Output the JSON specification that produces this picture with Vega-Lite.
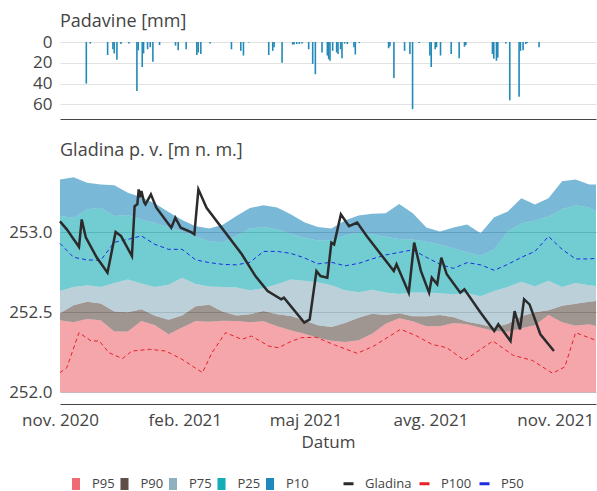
{
  "$schema": "https://vega.github.io/schema/vega-lite/v6.json",
  "padding": {"left": 8, "top": 13, "right": 0, "bottom": 0},
  "spacing": 23,
  "config": {
    "font": "Open Sans",
    "view": {"stroke": null},
    "axis": {"labelFont": "Open Sans", "labelFontSize": 17, "labelColor": "#444", "ticks": false, "domain": false, "titleFont": "Open Sans", "titleFontWeight": "normal", "titleFontSize": 17, "titleColor": "#444", "labelPadding": 8},
    "title": {"anchor": "start", "frame": "group", "fontSize": 18, "fontWeight": "normal", "color": "#444", "offset": 10, "font": "Open Sans"},
    "legend": {"labelFont": "Open Sans", "labelFontSize": 13, "labelColor": "#444", "padding": 0}
  },
  "datasets": {
    "rain": [
      {"d": "2020-11-17", "mm": 40}, {"d": "2020-11-20", "mm": 1.5}, {"d": "2020-12-03", "mm": 12.5}, {"d": "2020-12-07", "mm": 7},
      {"d": "2020-12-08", "mm": 11}, {"d": "2020-12-10", "mm": 17}, {"d": "2020-12-13", "mm": 2}, {"d": "2020-12-19", "mm": 1.5},
      {"d": "2020-12-25", "mm": 47}, {"d": "2020-12-26", "mm": 8}, {"d": "2020-12-29", "mm": 24}, {"d": "2020-12-30", "mm": 11},
      {"d": "2021-01-02", "mm": 7}, {"d": "2021-01-04", "mm": 5}, {"d": "2021-01-06", "mm": 19}, {"d": "2021-01-11", "mm": 3},
      {"d": "2021-01-23", "mm": 3.5}, {"d": "2021-01-25", "mm": 8}, {"d": "2021-01-31", "mm": 7}, {"d": "2021-02-08", "mm": 12.5},
      {"d": "2021-02-09", "mm": 10}, {"d": "2021-02-11", "mm": 11.5}, {"d": "2021-02-18", "mm": 1.5}, {"d": "2021-03-06", "mm": 7},
      {"d": "2021-03-13", "mm": 8.5}, {"d": "2021-03-15", "mm": 13}, {"d": "2021-03-19", "mm": 0.5}, {"d": "2021-04-03", "mm": 12.5},
      {"d": "2021-04-06", "mm": 8.5}, {"d": "2021-04-07", "mm": 5}, {"d": "2021-04-13", "mm": 20}, {"d": "2021-04-21", "mm": 2.5},
      {"d": "2021-04-22", "mm": 2.5}, {"d": "2021-04-24", "mm": 2}, {"d": "2021-04-26", "mm": 2}, {"d": "2021-04-28", "mm": 1.5},
      {"d": "2021-05-03", "mm": 7}, {"d": "2021-05-06", "mm": 21}, {"d": "2021-05-08", "mm": 31}, {"d": "2021-05-13", "mm": 10},
      {"d": "2021-05-17", "mm": 13}, {"d": "2021-05-18", "mm": 16.5}, {"d": "2021-05-19", "mm": 18}, {"d": "2021-05-21", "mm": 8.5},
      {"d": "2021-05-24", "mm": 10}, {"d": "2021-05-25", "mm": 11.5}, {"d": "2021-05-27", "mm": 7}, {"d": "2021-05-28", "mm": 15.5},
      {"d": "2021-05-30", "mm": 1.5}, {"d": "2021-06-01", "mm": 2}, {"d": "2021-06-06", "mm": 5}, {"d": "2021-06-07", "mm": 12},
      {"d": "2021-06-10", "mm": 1}, {"d": "2021-07-02", "mm": 6}, {"d": "2021-07-03", "mm": 4}, {"d": "2021-07-06", "mm": 34.5},
      {"d": "2021-07-14", "mm": 8.5}, {"d": "2021-07-18", "mm": 11.5}, {"d": "2021-07-20", "mm": 64.5}, {"d": "2021-07-25", "mm": 1},
      {"d": "2021-08-02", "mm": 13}, {"d": "2021-08-03", "mm": 24}, {"d": "2021-08-06", "mm": 7}, {"d": "2021-08-07", "mm": 5},
      {"d": "2021-08-10", "mm": 13}, {"d": "2021-08-18", "mm": 11.5}, {"d": "2021-08-24", "mm": 15.5}, {"d": "2021-08-28", "mm": 4.5},
      {"d": "2021-08-29", "mm": 3}, {"d": "2021-09-18", "mm": 11.5}, {"d": "2021-09-19", "mm": 16}, {"d": "2021-09-21", "mm": 18},
      {"d": "2021-09-22", "mm": 15}, {"d": "2021-09-28", "mm": 1.5}, {"d": "2021-10-01", "mm": 56}, {"d": "2021-10-08", "mm": 52.5},
      {"d": "2021-10-09", "mm": 8.5}, {"d": "2021-10-11", "mm": 8}, {"d": "2021-10-13", "mm": 2}, {"d": "2021-10-14", "mm": 1},
      {"d": "2021-10-23", "mm": 5}
    ],
    "bands": [
      {"d": "2020-11-01", "P10": 253.331, "P25": 253.102, "P50": 252.931, "P75": 252.633, "P90": 252.494, "P95": 252.450},
      {"d": "2020-11-11", "P10": 253.344, "P25": 253.092, "P50": 252.844, "P75": 252.659, "P90": 252.544, "P95": 252.438},
      {"d": "2020-11-21", "P10": 253.311, "P25": 253.144, "P50": 252.828, "P75": 252.670, "P90": 252.566, "P95": 252.459},
      {"d": "2020-12-01", "P10": 253.300, "P25": 253.154, "P50": 252.825, "P75": 252.659, "P90": 252.556, "P95": 252.450},
      {"d": "2020-12-11", "P10": 253.294, "P25": 253.103, "P50": 252.938, "P75": 252.684, "P90": 252.506, "P95": 252.381},
      {"d": "2020-12-21", "P10": 253.247, "P25": 253.109, "P50": 252.956, "P75": 252.706, "P90": 252.500, "P95": 252.381},
      {"d": "2020-12-31", "P10": 253.219, "P25": 253.081, "P50": 252.978, "P75": 252.681, "P90": 252.519, "P95": 252.446},
      {"d": "2021-01-10", "P10": 253.181, "P25": 253.059, "P50": 252.925, "P75": 252.659, "P90": 252.478, "P95": 252.419},
      {"d": "2021-01-20", "P10": 253.128, "P25": 253.034, "P50": 252.894, "P75": 252.672, "P90": 252.453, "P95": 252.363},
      {"d": "2021-01-30", "P10": 253.078, "P25": 253.006, "P50": 252.894, "P75": 252.716, "P90": 252.481, "P95": 252.406},
      {"d": "2021-02-09", "P10": 253.038, "P25": 252.975, "P50": 252.828, "P75": 252.678, "P90": 252.538, "P95": 252.446},
      {"d": "2021-02-19", "P10": 253.025, "P25": 252.944, "P50": 252.811, "P75": 252.661, "P90": 252.547, "P95": 252.441},
      {"d": "2021-03-01", "P10": 253.047, "P25": 252.938, "P50": 252.800, "P75": 252.659, "P90": 252.503, "P95": 252.447},
      {"d": "2021-03-11", "P10": 253.103, "P25": 252.978, "P50": 252.797, "P75": 252.656, "P90": 252.481, "P95": 252.446},
      {"d": "2021-03-21", "P10": 253.153, "P25": 253.025, "P50": 252.813, "P75": 252.638, "P90": 252.488, "P95": 252.438},
      {"d": "2021-03-31", "P10": 253.169, "P25": 253.034, "P50": 252.881, "P75": 252.650, "P90": 252.508, "P95": 252.444},
      {"d": "2021-04-10", "P10": 253.156, "P25": 253.019, "P50": 252.881, "P75": 252.675, "P90": 252.488, "P95": 252.413},
      {"d": "2021-04-20", "P10": 253.113, "P25": 252.991, "P50": 252.869, "P75": 252.706, "P90": 252.477, "P95": 252.388},
      {"d": "2021-04-30", "P10": 253.063, "P25": 252.966, "P50": 252.841, "P75": 252.697, "P90": 252.450, "P95": 252.366},
      {"d": "2021-05-10", "P10": 253.034, "P25": 252.950, "P50": 252.803, "P75": 252.688, "P90": 252.419, "P95": 252.341},
      {"d": "2021-05-20", "P10": 253.025, "P25": 252.953, "P50": 252.813, "P75": 252.669, "P90": 252.409, "P95": 252.322},
      {"d": "2021-05-30", "P10": 253.075, "P25": 252.981, "P50": 252.791, "P75": 252.638, "P90": 252.434, "P95": 252.314},
      {"d": "2021-06-09", "P10": 253.106, "P25": 252.998, "P50": 252.806, "P75": 252.625, "P90": 252.466, "P95": 252.325},
      {"d": "2021-06-19", "P10": 253.116, "P25": 252.988, "P50": 252.834, "P75": 252.642, "P90": 252.491, "P95": 252.366},
      {"d": "2021-06-29", "P10": 253.119, "P25": 252.972, "P50": 252.859, "P75": 252.624, "P90": 252.484, "P95": 252.428},
      {"d": "2021-07-09", "P10": 253.178, "P25": 252.959, "P50": 252.875, "P75": 252.614, "P90": 252.494, "P95": 252.463},
      {"d": "2021-07-19", "P10": 253.119, "P25": 252.956, "P50": 252.891, "P75": 252.624, "P90": 252.475, "P95": 252.444},
      {"d": "2021-07-29", "P10": 253.031, "P25": 252.941, "P50": 252.844, "P75": 252.624, "P90": 252.475, "P95": 252.413},
      {"d": "2021-08-08", "P10": 253.006, "P25": 252.925, "P50": 252.800, "P75": 252.620, "P90": 252.484, "P95": 252.413},
      {"d": "2021-08-18", "P10": 253.031, "P25": 252.900, "P50": 252.775, "P75": 252.613, "P90": 252.469, "P95": 252.434},
      {"d": "2021-08-28", "P10": 253.050, "P25": 252.875, "P50": 252.811, "P75": 252.621, "P90": 252.441, "P95": 252.425},
      {"d": "2021-09-07", "P10": 252.994, "P25": 252.856, "P50": 252.797, "P75": 252.600, "P90": 252.425, "P95": 252.404},
      {"d": "2021-09-17", "P10": 253.094, "P25": 252.894, "P50": 252.763, "P75": 252.634, "P90": 252.405, "P95": 252.383},
      {"d": "2021-09-27", "P10": 253.131, "P25": 253.006, "P50": 252.800, "P75": 252.659, "P90": 252.428, "P95": 252.378},
      {"d": "2021-10-07", "P10": 253.213, "P25": 253.056, "P50": 252.844, "P75": 252.691, "P90": 252.475, "P95": 252.400},
      {"d": "2021-10-17", "P10": 253.175, "P25": 253.075, "P50": 252.881, "P75": 252.661, "P90": 252.500, "P95": 252.419},
      {"d": "2021-10-27", "P10": 253.213, "P25": 253.100, "P50": 252.975, "P75": 252.697, "P90": 252.513, "P95": 252.484},
      {"d": "2021-11-06", "P10": 253.319, "P25": 253.144, "P50": 252.894, "P75": 252.659, "P90": 252.541, "P95": 252.438},
      {"d": "2021-11-16", "P10": 253.331, "P25": 253.169, "P50": 252.834, "P75": 252.684, "P90": 252.553, "P95": 252.416},
      {"d": "2021-11-26", "P10": 253.300, "P25": 253.156, "P50": 252.834, "P75": 252.670, "P90": 252.566, "P95": 252.425},
      {"d": "2021-12-01", "P10": 253.300, "P25": 253.131, "P50": 252.838, "P75": 252.664, "P90": 252.571, "P95": 252.414}
    ],
    "p100": [
      {"d": "2020-11-01", "v": 252.123}, {"d": "2020-11-06", "v": 252.154}, {"d": "2020-11-15", "v": 252.373}, {"d": "2020-11-24", "v": 252.321},
      {"d": "2020-11-30", "v": 252.321}, {"d": "2020-12-07", "v": 252.248}, {"d": "2020-12-17", "v": 252.211}, {"d": "2020-12-24", "v": 252.258},
      {"d": "2021-01-06", "v": 252.269}, {"d": "2021-01-18", "v": 252.258}, {"d": "2021-01-30", "v": 252.206}, {"d": "2021-02-14", "v": 252.123},
      {"d": "2021-02-21", "v": 252.248}, {"d": "2021-03-03", "v": 252.373}, {"d": "2021-03-15", "v": 252.331}, {"d": "2021-03-22", "v": 252.352},
      {"d": "2021-04-04", "v": 252.289}, {"d": "2021-04-11", "v": 252.279}, {"d": "2021-04-21", "v": 252.321}, {"d": "2021-04-28", "v": 252.342},
      {"d": "2021-05-09", "v": 252.344}, {"d": "2021-05-23", "v": 252.294}, {"d": "2021-06-08", "v": 252.244}, {"d": "2021-06-20", "v": 252.288},
      {"d": "2021-07-10", "v": 252.394}, {"d": "2021-07-22", "v": 252.352}, {"d": "2021-08-02", "v": 252.300}, {"d": "2021-08-13", "v": 252.279},
      {"d": "2021-08-26", "v": 252.200}, {"d": "2021-09-07", "v": 252.269}, {"d": "2021-09-16", "v": 252.321}, {"d": "2021-10-01", "v": 252.231},
      {"d": "2021-10-15", "v": 252.200}, {"d": "2021-10-30", "v": 252.119}, {"d": "2021-11-08", "v": 252.159}, {"d": "2021-11-16", "v": 252.373},
      {"d": "2021-12-01", "v": 252.325}
    ],
    "gl": [
      {"d": "2020-11-01", "v": 253.069}, {"d": "2020-11-06", "v": 253.019}, {"d": "2020-11-15", "v": 252.909}, {"d": "2020-11-17", "v": 253.081},
      {"d": "2020-11-20", "v": 252.969}, {"d": "2020-11-28", "v": 252.844}, {"d": "2020-12-06", "v": 252.748}, {"d": "2020-12-12", "v": 253.003},
      {"d": "2020-12-16", "v": 252.977}, {"d": "2020-12-24", "v": 252.852}, {"d": "2020-12-26", "v": 253.164}, {"d": "2020-12-28", "v": 253.175},
      {"d": "2020-12-29", "v": 253.269}, {"d": "2020-12-30", "v": 253.219}, {"d": "2020-12-31", "v": 253.258}, {"d": "2021-01-02", "v": 253.188},
      {"d": "2021-01-03", "v": 253.175}, {"d": "2021-01-07", "v": 253.238}, {"d": "2021-01-11", "v": 253.154}, {"d": "2021-01-22", "v": 253.029},
      {"d": "2021-01-25", "v": 253.092}, {"d": "2021-01-29", "v": 253.029}, {"d": "2021-02-06", "v": 253.000}, {"d": "2021-02-08", "v": 252.988},
      {"d": "2021-02-11", "v": 253.269}, {"d": "2021-02-17", "v": 253.154}, {"d": "2021-03-15", "v": 252.863}, {"d": "2021-03-25", "v": 252.727},
      {"d": "2021-04-03", "v": 252.633}, {"d": "2021-04-13", "v": 252.581}, {"d": "2021-04-15", "v": 252.592}, {"d": "2021-04-30", "v": 252.436},
      {"d": "2021-05-04", "v": 252.456}, {"d": "2021-05-09", "v": 252.758}, {"d": "2021-05-12", "v": 252.727}, {"d": "2021-05-17", "v": 252.717},
      {"d": "2021-05-20", "v": 252.936}, {"d": "2021-05-22", "v": 252.925}, {"d": "2021-05-27", "v": 253.113}, {"d": "2021-06-02", "v": 253.039},
      {"d": "2021-06-08", "v": 253.061}, {"d": "2021-06-15", "v": 252.977}, {"d": "2021-07-05", "v": 252.758}, {"d": "2021-07-07", "v": 252.800},
      {"d": "2021-07-16", "v": 252.623}, {"d": "2021-07-20", "v": 252.936}, {"d": "2021-07-25", "v": 252.758}, {"d": "2021-07-31", "v": 252.623},
      {"d": "2021-08-02", "v": 252.717}, {"d": "2021-08-06", "v": 252.675}, {"d": "2021-08-09", "v": 252.842}, {"d": "2021-08-13", "v": 252.738},
      {"d": "2021-08-23", "v": 252.623}, {"d": "2021-08-26", "v": 252.644}, {"d": "2021-09-07", "v": 252.498}, {"d": "2021-09-17", "v": 252.383},
      {"d": "2021-09-20", "v": 252.425}, {"d": "2021-09-29", "v": 252.321}, {"d": "2021-10-02", "v": 252.508}, {"d": "2021-10-06", "v": 252.394},
      {"d": "2021-10-09", "v": 252.581}, {"d": "2021-10-13", "v": 252.550}, {"d": "2021-10-21", "v": 252.363}, {"d": "2021-10-31", "v": 252.258}
    ]
  },
  "vconcat": [
    {
      "title": {"text": "Padavine [mm]", "offset": 2},
      "width": 536,
      "height": 77,
      "data": {"name": "rain"},
      "mark": {"type": "bar", "color": "#2389b8", "size": 1.6},
      "encoding": {
        "x": {"field": "d", "type": "temporal",
          "scale": {"type": "utc", "domain": [{"year": 2020, "month": 11, "date": 1, "utc": true}, {"year": 2021, "month": 12, "date": 1, "utc": true}]},
          "axis": {"labels": false, "grid": false, "domain": true, "domainColor": "#444", "title": null}},
        "y": {"field": "mm", "type": "quantitative", "title": null,
          "scale": {"domain": [0, 74], "reverse": true, "nice": false},
          "axis": {"values": [0, 20, 40, 60], "gridColor": "#e2e2e2"}}
      }
    },
    {
      "title": {"text": "Gladina p. v. [m n. m.]"},
      "width": 536,
      "height": 234,
      "data": {"name": "bands"},
      "layer": [
        {
          "mark": {"type": "area", "fillOpacity": 0.6},
          "encoding": {
            "x": {"field": "d", "type": "temporal", "title": "Datum",
              "scale": {"type": "utc", "domain": [{"year": 2020, "month": 11, "date": 1, "utc": true}, {"year": 2021, "month": 12, "date": 1, "utc": true}]},
              "axis": {"values": [{"year": 2020, "month": 11, "date": 1, "utc": true}, {"year": 2021, "month": 2, "date": 1, "utc": true}, {"year": 2021, "month": 5, "date": 1, "utc": true}, {"year": 2021, "month": 8, "date": 1, "utc": true}, {"year": 2021, "month": 11, "date": 1, "utc": true}],
                "labelExpr": "['jan.','feb.','mar.','apr.','maj','jun.','jul.','avg.','sep.','okt.','nov.','dec.'][utcmonth(datum.value)] + ' ' + utcyear(datum.value)",
                "labelFlush": false, "grid": false, "domain": true, "domainColor": "#444", "labelPadding": 8, "titlePadding": 6}},
            "y": {"field": "P95", "type": "quantitative", "title": null,
              "scale": {"domain": [251.927, 253.39], "zero": false, "nice": false},
              "axis": {"values": [252, 252.5, 253], "format": ".1f", "gridColor": "#c4c4c4"}},
            "y2": {"datum": 252},
            "fill": {"datum": "P95", "type": "nominal",
              "scale": {"domain": ["P95", "P90", "P75", "P25", "P10"], "range": ["#ee6b73", "#5f4f48", "#8fb0bf", "#14acb6", "#1f88bd"]},
              "legend": {"title": null, "orient": "none", "legendX": 9, "legendY": 435, "direction": "horizontal",
                "symbolType": "M-0.67,-1H0.67V1H-0.67Z", "symbolSize": 144, "labelOffset": 9, "columnPadding": 2.5, "symbolOpacity": 1,
                "encode": {"symbols": {"update": {"opacity": {"value": 1}, "fillOpacity": {"value": 1}}}}}}
          }
        },
        {
          "mark": {"type": "area", "fillOpacity": 0.6},
          "encoding": {"x": {"field": "d", "type": "temporal"}, "y": {"field": "P90", "type": "quantitative", "title": null}, "y2": {"field": "P95"}, "fill": {"datum": "P90", "type": "nominal"}}
        },
        {
          "mark": {"type": "area", "fillOpacity": 0.6},
          "encoding": {"x": {"field": "d", "type": "temporal"}, "y": {"field": "P75", "type": "quantitative", "title": null}, "y2": {"field": "P90"}, "fill": {"datum": "P75", "type": "nominal"}}
        },
        {
          "mark": {"type": "area", "fillOpacity": 0.6},
          "encoding": {"x": {"field": "d", "type": "temporal"}, "y": {"field": "P25", "type": "quantitative", "title": null}, "y2": {"field": "P75"}, "fill": {"datum": "P25", "type": "nominal"}}
        },
        {
          "mark": {"type": "area", "fillOpacity": 0.6},
          "encoding": {"x": {"field": "d", "type": "temporal"}, "y": {"field": "P10", "type": "quantitative", "title": null}, "y2": {"field": "P25"}, "fill": {"datum": "P10", "type": "nominal"}}
        },
        {
          "data": {"name": "p100"},
          "mark": {"type": "line", "strokeWidth": 1, "strokeDash": [4, 3]},
          "encoding": {"x": {"field": "d", "type": "temporal"}, "y": {"field": "v", "type": "quantitative", "title": null},
            "stroke": {"datum": "P100", "type": "nominal"}}
        },
        {
          "mark": {"type": "line", "strokeWidth": 1, "strokeDash": [4, 3]},
          "encoding": {"x": {"field": "d", "type": "temporal"}, "y": {"field": "P50", "type": "quantitative", "title": null},
            "stroke": {"datum": "P50", "type": "nominal"}}
        },
        {
          "data": {"name": "gl"},
          "mark": {"type": "line", "strokeWidth": 2.5},
          "encoding": {"x": {"field": "d", "type": "temporal"}, "y": {"field": "v", "type": "quantitative", "title": null},
            "stroke": {"datum": "Gladina", "type": "nominal",
              "scale": {"domain": ["Gladina", "P100", "P50"], "range": ["#2b2b2b", "#e8202a", "#1a2ee0"]},
              "legend": {"title": null, "orient": "none", "legendX": 282, "legendY": 435, "direction": "horizontal",
                "symbolType": "stroke", "symbolSize": 100, "symbolStrokeWidth": 3, "symbolDash": [1, 0], "labelOffset": 10, "columnPadding": 1,
                "encode": {"symbols": {"update": {"strokeDash": {"value": [1, 0]}, "strokeWidth": {"value": 3}, "opacity": {"value": 1}}}}}}}
        }
      ]
    }
  ]
}
